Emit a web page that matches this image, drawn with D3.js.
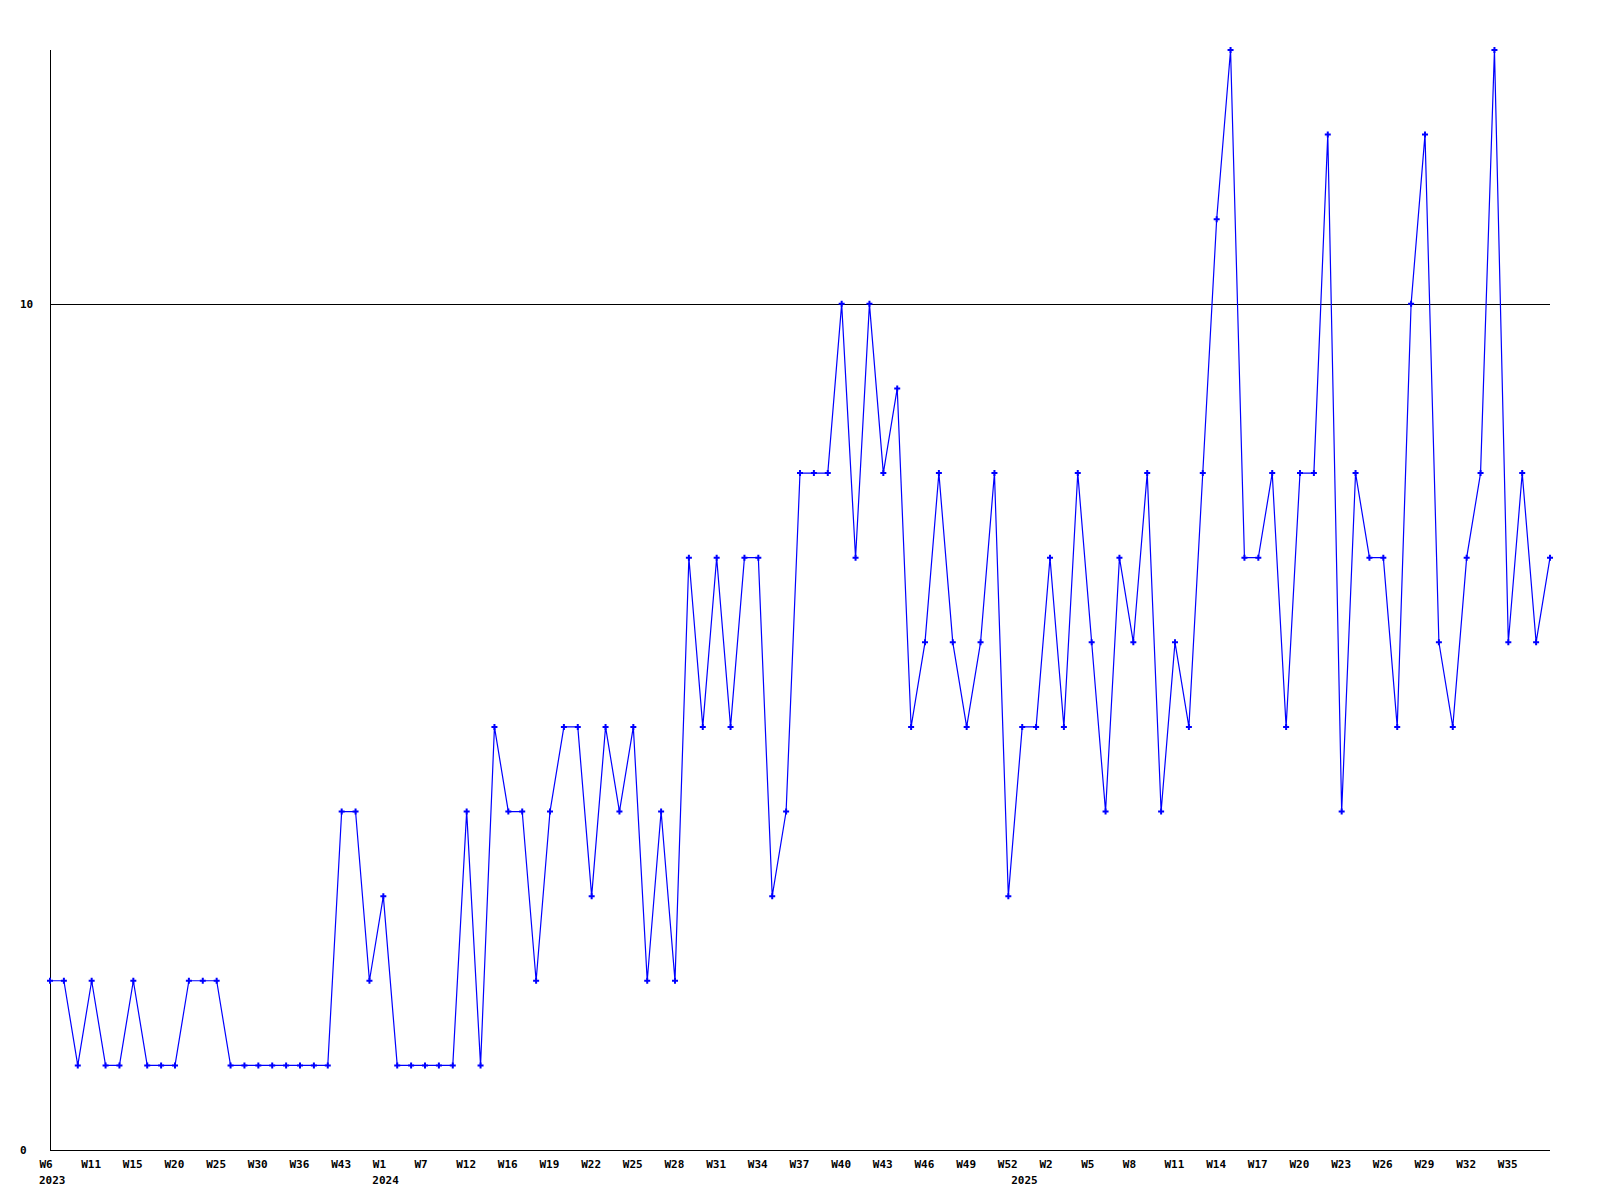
<html>
  <head>
    <style>
      body { margin: 0; background: #fff; }
      svg { display: block; }
      .axis text, .year {
        font-family: "DejaVu Sans Mono", monospace;
        font-size: 11px;
        font-weight: bold;
        fill: #000;
      }
      .axis path, .axis line { stroke: #000; shape-rendering: crispEdges; }
      .series { fill: none; stroke: #0000ff; stroke-width: 1.2; }
      .marker { fill: #0000ff; }
    </style>
    <script src="https://cdn.jsdelivr.net/npm/d3@7"></script>
  </head>
  <body>
    <svg id="svg"></svg>
    <script>
      // one value per point, points are evenly spaced
      var counts = [
        2, 2, 1, 2, 1, 1, 2, 1, 1, 1, 2, 2, 2, 1, 1, 1, 1, 1, 1, 1, 1,
        4, 4, 2, 3, 1, 1, 1, 1, 1, 4, 1, 5, 4, 4, 2, 4, 5, 5, 3, 5, 4, 5, 2, 4, 2,
        7, 5, 7, 5, 7, 7, 3, 4, 8, 8, 8, 10, 7, 10, 8, 9, 5, 6,
        8, 6, 5, 6, 8, 3, 5, 5, 7, 5, 8, 6, 4, 7, 6, 8, 4, 6, 5, 8,
        11, 13, 7, 7, 8, 5, 8, 8, 12, 4, 8, 7, 7, 5, 10, 12, 6, 5, 7, 8, 13, 6, 8, 6, 7
      ];

      // a label on every third point
      var weekLabels = [
        "W6", "W11", "W15", "W20", "W25", "W30", "W36", "W43",
        "W1", "W7", "W12", "W16", "W19", "W22", "W25", "W28", "W31", "W34",
        "W37", "W40", "W43", "W46", "W49", "W52",
        "W2", "W5", "W8", "W11", "W14", "W17", "W20", "W23", "W26", "W29", "W32", "W35"
      ];
      var labelStep = 3;

      var years = ["2023", "2024", "2025"];
      var yearStart = [0, 24, 70];

      var yTicks = [0, 10];
      var yMax = 13;

      var width = 1600,
          height = 1200,
          plotLeft = 50,
          plotRight = 1550,
          plotTop = 50,
          plotBottom = 1150;

      var svg = d3.select("#svg")
        .attr("width", width)
        .attr("height", height);

      var x = d3.scaleLinear()
        .domain([0, counts.length - 1])
        .range([plotLeft, plotRight]);

      var y = d3.scaleLinear()
        .domain([0, yMax])
        .range([plotBottom, plotTop]);

      // y axis with the gridline at 10
      var yAxis = d3.axisLeft(y)
        .tickValues(yTicks)
        .tickSize(-(plotRight - plotLeft))
        .tickFormat(d3.format("d"));

      var gy = svg.append("g")
        .attr("class", "axis")
        .attr("transform", "translate(" + plotLeft + ",0)")
        .call(yAxis);
      gy.select(".domain").attr("d", "M0.5," + plotTop + "V" + plotBottom);
      gy.selectAll(".tick text")
        .attr("x", 20 - plotLeft)
        .attr("dy", "0.35em")
        .attr("text-anchor", "start");

      // x axis, labels start a little left of their point
      var tickIdx = weekLabels.map((d, i) => i * labelStep);
      var xAxis = d3.axisBottom(x)
        .tickValues(tickIdx)
        .tickSize(0)
        .tickPadding(0)
        .tickFormat((d, i) => weekLabels[i]);

      var gx = svg.append("g")
        .attr("class", "axis")
        .attr("transform", "translate(0," + plotBottom + ")")
        .call(xAxis);
      gx.select(".domain").attr("d", "M" + plotLeft + ",0.5H" + plotRight);
      gx.selectAll(".tick text")
        .attr("y", 18)
        .attr("dy", null)
        .attr("x", -11)
        .attr("text-anchor", "start");

      svg.selectAll("text.year").data(years)
        .enter().append("text")
          .attr("class", "year")
          .attr("x", (d, i) => x(yearStart[i]) - 11)
          .attr("y", plotBottom + 34)
          .text(d => d);

      // the series
      var line = d3.line()
        .x((d, i) => x(i))
        .y(d => y(d));

      svg.append("path")
        .datum(counts)
        .attr("class", "series")
        .attr("d", line);

      var cross = d3.symbol().type(d3.symbolCross).size(20);
      svg.selectAll("path.marker").data(counts)
        .enter().append("path")
          .attr("class", "marker")
          .attr("transform", (d, i) => "translate(" + x(i) + "," + y(d) + ")")
          .attr("d", cross);
    </script>
  </body>
</html>
